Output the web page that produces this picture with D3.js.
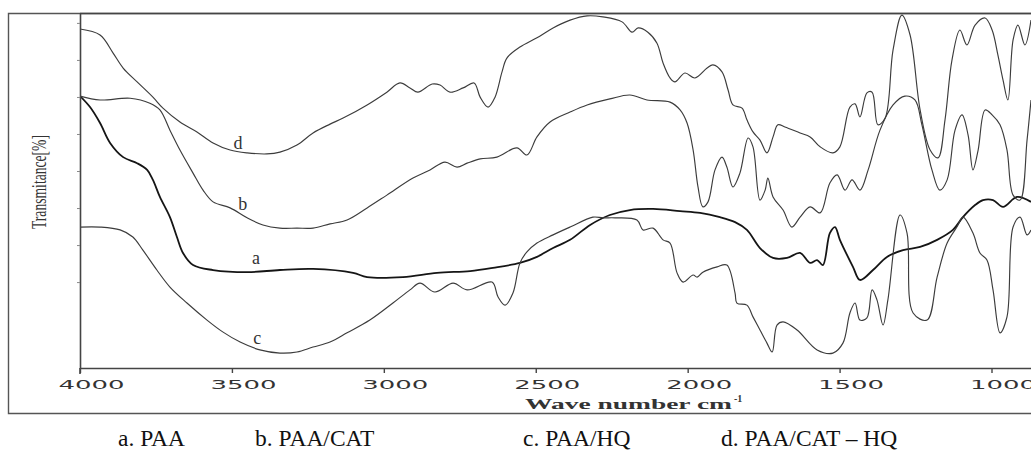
<!DOCTYPE html>
<html>
<head>
<meta charset="utf-8">
<script src="https://cdn.jsdelivr.net/npm/d3@7"></script>
<style>
  html, body { margin: 0; padding: 0; background: #fff; }
  svg { display: block; }
</style>
</head>
<body>
<svg id="chart" width="1031" height="451"></svg>
<script>
// FTIR spectra: wavenumber (cm-1) vs transmittance (arbitrary %), four samples.
const waveTicks = [4000, 3500, 3000, 2500, 2000, 1500, 1000];
const legendLabels = ["a. PAA", "b. PAA/CAT", "c. PAA/HQ", "d. PAA/CAT \u2013 HQ"];
const curveLetters = ["a", "b", "c", "d"];
// where each curve's letter sits: [wavenumber, transmittance]
const letterAnchors = [[3421, 31.0], [3464, 46.2], [3417, 8.5], [3480, 63.4]];

// a. PAA
const spectrumA = [
  [4000,76.6],[3967,73.5],[3934,69.0],[3901,63.4],[3858,59.4],[3812,57.7],[3779,55.8],[3760,53.0],
  [3737,48.2],[3704,42.5],[3681,36.9],[3661,32.4],[3628,29.0],[3562,27.6],[3450,27.0],[3342,27.6],
  [3233,27.9],[3101,26.8],[3055,25.6],[2937,25.6],[2825,26.8],[2716,27.3],[2641,28.2],[2552,29.6],
  [2496,31.3],[2443,33.8],[2387,36.1],[2321,40.3],[2256,43.1],[2190,44.5],[2114,44.8],[2025,44.2],
  [1959,43.7],[1894,42.5],[1844,41.1],[1805,38.9],[1762,33.8],[1719,31.0],[1673,31.0],[1630,32.4],
  [1597,29.6],[1574,30.4],[1555,29.0],[1532,38.0],[1515,39.7],[1499,36.1],[1456,28.5],[1433,24.8],
  [1390,27.6],[1344,31.3],[1291,33.2],[1235,34.1],[1179,36.1],[1127,38.9],[1094,42.5],[1054,45.9],
  [1028,47.3],[995,47.3],[962,45.4],[916,48.2],[870,46.8]
];

// b. PAA/CAT
const spectrumB = [
  [4000,76.6],[3934,75.5],[3835,76.0],[3770,74.6],[3737,72.7],[3704,67.0],[3671,61.4],[3628,54.9],
  [3595,50.1],[3562,46.8],[3506,45.1],[3450,42.3],[3398,40.3],[3342,39.4],[3286,39.4],[3233,39.4],
  [3177,40.6],[3121,41.7],[3055,45.1],[2990,48.7],[2904,53.5],[2848,55.8],[2799,58.0],[2759,56.6],
  [2726,57.7],[2683,58.9],[2628,59.4],[2562,62.0],[2529,60.0],[2496,65.1],[2453,69.3],[2387,72.1],
  [2331,74.1],[2256,75.8],[2190,76.9],[2134,75.5],[2058,74.9],[2025,72.7],[2002,69.0],[1982,61.4],
  [1966,51.0],[1950,45.4],[1933,46.8],[1910,55.8],[1887,59.4],[1871,56.6],[1851,51.0],[1828,54.9],
  [1801,64.8],[1785,62.3],[1762,47.3],[1745,50.1],[1736,53.5],[1719,48.2],[1686,44.5],[1657,39.7],
  [1630,42.5],[1597,45.4],[1564,43.7],[1532,52.1],[1508,54.4],[1482,50.1],[1459,53.0],[1433,50.1],
  [1406,55.8],[1367,67.0],[1324,74.1],[1285,76.6],[1252,75.5],[1229,68.5],[1196,55.8],[1170,50.1],
  [1146,53.0],[1120,67.0],[1097,71.3],[1077,65.6],[1061,55.8],[1044,61.4],[1021,72.7],[998,71.3],
  [972,68.5],[949,61.4],[929,48.7],[906,47.3],[883,64.2],[870,75.5]
];

// c. PAA/HQ
const spectrumC = [
  [4000,39.7],[3934,39.7],[3868,38.9],[3826,36.9],[3793,33.2],[3747,27.6],[3704,22.8],[3648,18.3],
  [3582,13.5],[3529,10.1],[3473,7.3],[3408,5.1],[3342,4.2],[3286,4.5],[3233,5.9],[3177,7.3],
  [3121,9.9],[3046,13.5],[2970,18.3],[2914,22.0],[2881,23.9],[2832,21.4],[2772,23.9],[2726,22.0],
  [2644,24.2],[2624,20.0],[2601,17.7],[2575,21.1],[2552,29.6],[2529,32.7],[2496,35.2],[2443,37.5],
  [2387,39.7],[2312,42.5],[2279,42.3],[2239,42.3],[2167,41.7],[2147,38.9],[2114,39.4],[2081,36.1],
  [2058,35.2],[2035,26.8],[2015,24.2],[1982,26.2],[1969,25.6],[1950,27.0],[1903,28.5],[1871,29.0],
  [1844,21.1],[1838,18.3],[1805,17.7],[1785,14.4],[1762,10.7],[1739,7.0],[1722,4.5],[1706,12.1],
  [1686,13.0],[1640,10.7],[1574,5.1],[1522,4.2],[1489,7.0],[1466,15.5],[1449,18.3],[1433,13.5],
  [1410,14.1],[1393,22.0],[1377,19.2],[1357,12.1],[1341,19.2],[1301,43.1],[1278,38.0],[1258,15.5],
  [1212,13.5],[1179,25.6],[1146,35.2],[1114,39.7],[1094,42.5],[1061,38.0],[1038,32.4],[1015,30.4],
  [995,22.0],[972,9.9],[949,14.4],[929,39.7],[906,42.5],[883,37.5],[870,38.9]
];

// d. PAA/CAT - HQ
const spectrumD = [
  [4000,95.5],[3934,93.8],[3891,88.7],[3858,84.5],[3812,80.6],[3760,76.3],[3727,73.2],[3671,69.3],
  [3615,66.5],[3562,63.4],[3506,61.4],[3450,60.6],[3385,60.3],[3342,60.8],[3286,62.8],[3233,66.2],
  [3177,68.7],[3134,70.4],[3055,74.1],[2990,77.7],[2947,80.3],[2914,78.9],[2888,77.7],[2841,80.0],
  [2815,79.7],[2782,77.7],[2739,78.9],[2703,80.3],[2683,76.3],[2657,73.5],[2634,76.3],[2611,83.4],
  [2595,87.3],[2552,90.4],[2496,93.0],[2443,95.8],[2387,98.0],[2331,99.2],[2279,98.9],[2216,97.5],
  [2183,94.6],[2163,95.8],[2131,94.6],[2101,91.5],[2081,85.9],[2058,81.7],[2042,80.6],[2009,83.1],
  [1976,81.7],[1936,84.5],[1917,85.4],[1887,83.4],[1867,78.3],[1851,74.1],[1821,73.2],[1805,69.9],
  [1785,66.5],[1762,64.2],[1739,60.6],[1719,65.1],[1703,68.5],[1680,67.9],[1630,66.2],[1597,65.1],
  [1564,62.3],[1522,60.6],[1499,62.3],[1466,73.5],[1449,74.4],[1433,70.7],[1410,77.5],[1393,77.7],
  [1374,68.5],[1350,70.4],[1324,89.6],[1295,99.4],[1268,93.8],[1235,72.7],[1202,61.4],[1176,59.2],
  [1153,69.9],[1130,86.8],[1104,95.2],[1081,91.0],[1054,96.6],[1021,98.6],[998,95.2],[979,88.2],
  [962,81.1],[946,75.5],[929,92.4],[913,96.6],[890,91.0],[870,98.0]
];

const spectra = [spectrumA, spectrumB, spectrumC, spectrumD];

const svg = d3.select("#chart");
const plotLeft = 80, plotRight = 1031, plotTop = 13, plotBottom = 368;

const x = d3.scaleLinear().domain([4000, 870]).range([plotLeft, plotRight]);
const y = d3.scaleLinear().domain([0, 100]).range([plotBottom, plotTop]);

// outer frame around the figure
svg.append("path")
  .attr("d", `M${plotRight + 2},13.5 H8.5 V413.5 H${plotRight + 2}`)
  .attr("fill", "none").attr("stroke", "#555").attr("stroke-width", 1.4);

// clip curves to the plotting area
svg.append("clipPath").attr("id", "plotClip")
  .append("rect").attr("x", plotLeft).attr("y", plotTop)
  .attr("width", plotRight - plotLeft).attr("height", plotBottom - plotTop);

const line = d3.line()
  .x(d => x(d[0]))
  .y(d => y(d[1]))
  .curve(d3.curveCatmullRom.alpha(0.5));

const g = svg.append("g").attr("clip-path", "url(#plotClip)");
spectra.forEach((s, i) => {
  g.append("path")
    .datum(s)
    .attr("d", line)
    .attr("fill", "none")
    .attr("stroke", i === 0 ? "#151515" : "#3c3c3c")
    .attr("stroke-width", i === 0 ? 1.8 : 1.15)
    .attr("stroke-linejoin", "round");
});

// curve letters
curveLetters.forEach((c, i) => {
  svg.append("text")
    .attr("x", x(letterAnchors[i][0]))
    .attr("y", y(letterAnchors[i][1]))
    .attr("text-anchor", "middle")
    .attr("dominant-baseline", "central")
    .attr("font-family", "Liberation Serif, serif")
    .attr("font-size", 18)
    .attr("fill", "#333")
    .text(c);
});

// bottom axis; labels are wide and sit a little right of their ticks
const labelWidth = 66;
const xAxis = d3.axisBottom(x).tickValues(waveTicks).tickSize(5).tickSizeOuter(0).tickPadding(7)
  .tickFormat(d3.format("d"));
const gx = svg.append("g").attr("transform", `translate(0,${plotBottom})`).call(xAxis);
gx.select(".domain").attr("stroke", "#444").attr("stroke-width", 1.6);
gx.selectAll(".tick line").attr("stroke", "#444").attr("stroke-width", 1.4);
gx.selectAll(".tick text")
  .attr("text-anchor", "start")
  .attr("x", 11 - labelWidth / 2)
  .attr("font-family", "DejaVu Sans, sans-serif")
  .attr("font-size", 12.5)
  .attr("fill", "#333")
  .attr("textLength", labelWidth)
  .attr("lengthAdjust", "spacingAndGlyphs");

// left axis with small unlabeled ticks
const yTicks = d3.range(8).map(i => 24.2 + i * 10.43);
const yAxis = d3.axisLeft(y).tickValues(yTicks).tickSize(3).tickSizeOuter(0).tickFormat("");
const gy = svg.append("g").attr("transform", `translate(${plotLeft},0)`).call(yAxis);
gy.select(".domain").attr("stroke", "#444").attr("stroke-width", 1.6);
gy.selectAll(".tick line").attr("stroke", "#888").attr("stroke-width", 1);
// axis line continues a little below the bottom axis
svg.append("line").attr("x1", plotLeft).attr("x2", plotLeft).attr("y1", plotBottom).attr("y2", plotBottom + 6)
  .attr("stroke", "#444").attr("stroke-width", 1.6);
// top border of the plot
svg.append("line").attr("x1", plotLeft).attr("x2", plotRight).attr("y1", plotTop + 0.5).attr("y2", plotTop + 0.5)
  .attr("stroke", "#444").attr("stroke-width", 1.4);

// axis titles
svg.append("text")
  .attr("transform", "translate(46,182) rotate(-90)")
  .attr("text-anchor", "start")
  .attr("x", -47)
  .attr("font-family", "Liberation Serif, serif")
  .attr("font-size", 20)
  .attr("fill", "#333")
  .attr("textLength", 94)
  .attr("lengthAdjust", "spacingAndGlyphs")
  .text("Transmitance[%]");

svg.append("text")
  .attr("x", 525).attr("y", 409)
  .attr("font-family", "Liberation Serif, serif")
  .attr("font-weight", "bold")
  .attr("font-size", 15)
  .attr("fill", "#333")
  .attr("textLength", 207)
  .attr("lengthAdjust", "spacingAndGlyphs")
  .text("Wave number cm");
svg.append("text")
  .attr("x", 734).attr("y", 402)
  .attr("font-family", "Liberation Serif, serif")
  .attr("font-weight", "bold")
  .attr("font-size", 10)
  .attr("fill", "#333")
  .text("-1");

// sample legend row
const legendX = [118, 255, 523, 721];
legendLabels.forEach((t, i) => {
  svg.append("text")
    .attr("x", legendX[i]).attr("y", 446)
    .attr("font-family", "Liberation Serif, serif")
    .attr("font-size", 23.5)
    .attr("fill", "#111")
    .text(t);
});
</script>
</body>
</html>
